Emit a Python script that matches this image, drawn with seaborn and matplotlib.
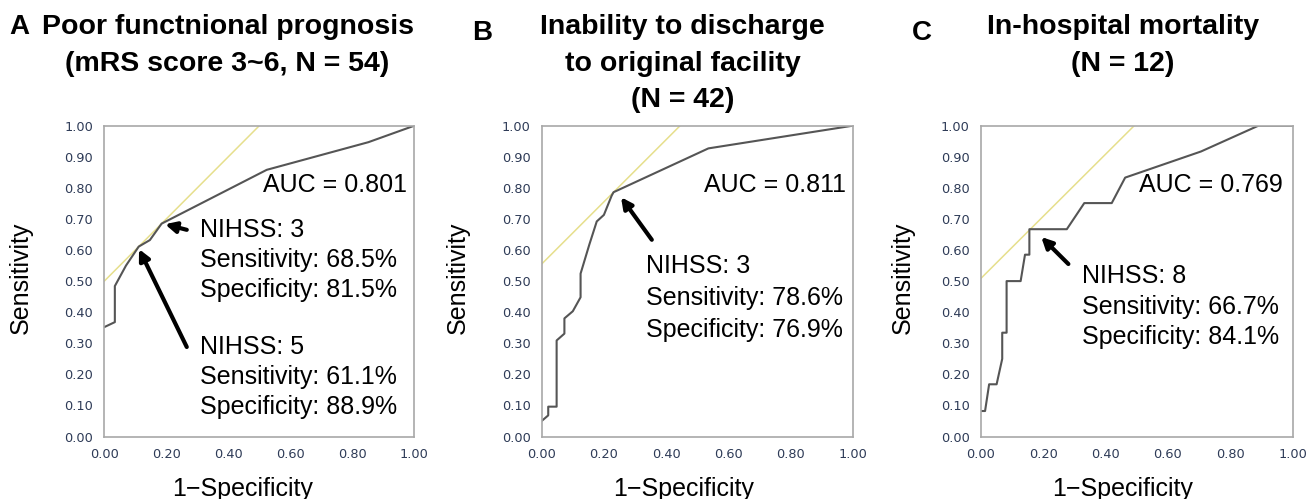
import numpy as np
import pandas as pd
import matplotlib
matplotlib.use("Agg")
import matplotlib.pyplot as plt
import matplotlib.ticker as mticker
import seaborn as sns

# ROC curves (x = 1-specificity, y = sensitivity)
fpr_a = [0.0, 0.034, 0.034, 0.07, 0.111, 0.147, 0.185, 0.524, 0.852, 1.0]
tpr_a = [0.352, 0.368, 0.484, 0.55, 0.611, 0.632, 0.685, 0.858, 0.947, 1.0]

fpr_b = [0.0, 0.021, 0.021, 0.048, 0.048, 0.073, 0.073, 0.1, 0.125, 0.125,
         0.153, 0.177, 0.2, 0.225, 0.231, 0.536, 1.0]
tpr_b = [0.05, 0.068, 0.096, 0.096, 0.309, 0.331, 0.38, 0.403, 0.448, 0.524,
         0.617, 0.692, 0.713, 0.775, 0.786, 0.927, 1.0]

fpr_c = [0.0, 0.014, 0.027, 0.051, 0.069, 0.069, 0.083, 0.083, 0.128, 0.142,
         0.156, 0.156, 0.276, 0.332, 0.42, 0.463, 0.706, 0.89, 1.0]
tpr_c = [0.082, 0.082, 0.168, 0.168, 0.25, 0.334, 0.334, 0.5, 0.5, 0.585,
         0.585, 0.667, 0.667, 0.751, 0.751, 0.833, 0.917, 1.0, 1.0]

# tangent (Youden) line intercepts
intercepts = [0.5, 0.555, 0.508]
aucs = ["AUC = 0.801", "AUC = 0.811", "AUC = 0.769"]
letters = ["A", "B", "C"]
titles = [["Poor functnional prognosis", "(mRS score 3~6, N = 54)"],
          ["Inability to discharge", "to original facility", "(N = 42)"],
          ["In-hospital mortality", "(N = 12)"]]
cutoffs = [
    [("NIHSS: 3", "68.5%", "81.5%"), ("NIHSS: 5", "61.1%", "88.9%")],
    [("NIHSS: 3", "78.6%", "76.9%")],
    [("NIHSS: 8", "66.7%", "84.1%")],
]

sns.set_style("white")
plt.rcParams["font.family"] = ["Liberation Sans", "DejaVu Sans"]
plt.rcParams["text.color"] = "black"
plt.rcParams["axes.labelcolor"] = "black"

fig = plt.figure(figsize=(13.11, 4.99), dpi=100)
W, H = 1311, 499
ax_px = [(104.3, 414.3), (541.7, 852.7), (980.7, 1292.7)]
bottom, top = 436.5, 125.7

curves = [(fpr_a, tpr_a), (fpr_b, tpr_b), (fpr_c, tpr_c)]

# text placement (axes-data coords) per panel
auc_xy = [(0.976, 0.81), (0.98, 0.81), (0.968, 0.81)]
block_xy = [[(0.309, 0.665), (0.309, 0.288)], [(0.335, 0.55)], [(0.324, 0.515)]]
line_step = [0.097, 0.103, 0.097]
arrows = [[((0.266, 0.665), (0.196, 0.683)), ((0.266, 0.288), (0.112, 0.603))],
          [((0.354, 0.633), (0.255, 0.77))],
          [((0.281, 0.555), (0.194, 0.642))]]
xlab_x = [0.445, 0.455, 0.455]
ylab_x = [-0.232, -0.23, -0.21]

for i in range(3):
    l, r = ax_px[i]
    ax = fig.add_axes([l / W, (H - bottom) / H, (r - l) / W, (bottom - top) / H])
    b = intercepts[i]
    sns.lineplot(x=[0, 1 - b], y=[b, 1], ax=ax, color="#e6df8c", lw=1.1)
    fx, ty = curves[i]
    df = pd.DataFrame({"fpr": fx, "tpr": ty})
    sns.lineplot(data=df, x="fpr", y="tpr", sort=False, estimator=None,
                 ax=ax, color="#555555", lw=1.5)
    ax.set_xlim(0, 1)
    ax.set_ylim(0, 1)

    ax.xaxis.set_major_locator(mticker.MultipleLocator(0.1))
    ax.xaxis.set_minor_locator(mticker.MultipleLocator(0.05))
    ax.xaxis.set_major_formatter(mticker.FuncFormatter(
        lambda v, p: f"{v:.2f}" if round(v * 10) % 2 == 0 else ""))
    ax.yaxis.set_major_locator(mticker.MultipleLocator(0.1))
    ax.yaxis.set_minor_locator(mticker.MultipleLocator(0.05))
    ax.yaxis.set_major_formatter(mticker.FormatStrFormatter("%.2f"))
    ax.tick_params(which="major", direction="out", length=6, width=1,
                   color="#a0a0a0", labelsize=9.3, labelcolor="#2e3b57", pad=2)
    ax.tick_params(which="minor", direction="out", length=3, width=1,
                   color="#a0a0a0")
    for lab in ax.get_xticklabels() + ax.get_yticklabels():
        lab.set_family("DejaVu Sans")
    for s in ax.spines.values():
        s.set_color("#a8a8a8")
        s.set_linewidth(1.2)

    ax.set_xlabel("1\u2212Specificity", fontsize=18)
    ax.xaxis.set_label_coords(xlab_x[i], -0.13)
    ax.set_ylabel("Sensitivity", fontsize=18)
    ax.yaxis.set_label_coords(ylab_x[i], 0.51)

    ax.text(auc_xy[i][0], auc_xy[i][1], aucs[i], fontsize=18,
            ha="right", va="center")
    for (bx, by), (nih, sens, spec) in zip(block_xy[i], cutoffs[i]):
        st = line_step[i]
        ax.text(bx, by, nih, fontsize=18, ha="left", va="center")
        ax.text(bx, by - st, f"Sensitivity: {sens}", fontsize=18,
                ha="left", va="center")
        ax.text(bx, by - 2 * st, f"Specificity: {spec}", fontsize=18,
                ha="left", va="center")
    for tail, head in arrows[i]:
        ax.annotate("", xy=head, xytext=tail,
                    arrowprops=dict(arrowstyle="-|>", color="black", lw=3,
                                    mutation_scale=16, shrinkA=0, shrinkB=0))

# panel titles
title_cx = [227, 682.5, 1123]
letter_xy = [(9, 27), (472, 33), (912, 33)]
line_y = [27, 64, 100]
for i in range(3):
    fig.text(letter_xy[i][0] / W, 1 - letter_xy[i][1] / H, letters[i],
             fontsize=20, fontweight="bold", ha="left", va="center")
    for j, t in enumerate(titles[i]):
        if i == 0 and j == 0:
            fig.text(42 / W, 1 - line_y[0] / H, t, fontsize=20.5,
                     fontweight="bold", ha="left", va="center")
        else:
            fig.text(title_cx[i] / W, 1 - line_y[j] / H, t, fontsize=20.5,
                     fontweight="bold", ha="center", va="center")

plt.savefig("out.png", dpi=100)
plt.close()
